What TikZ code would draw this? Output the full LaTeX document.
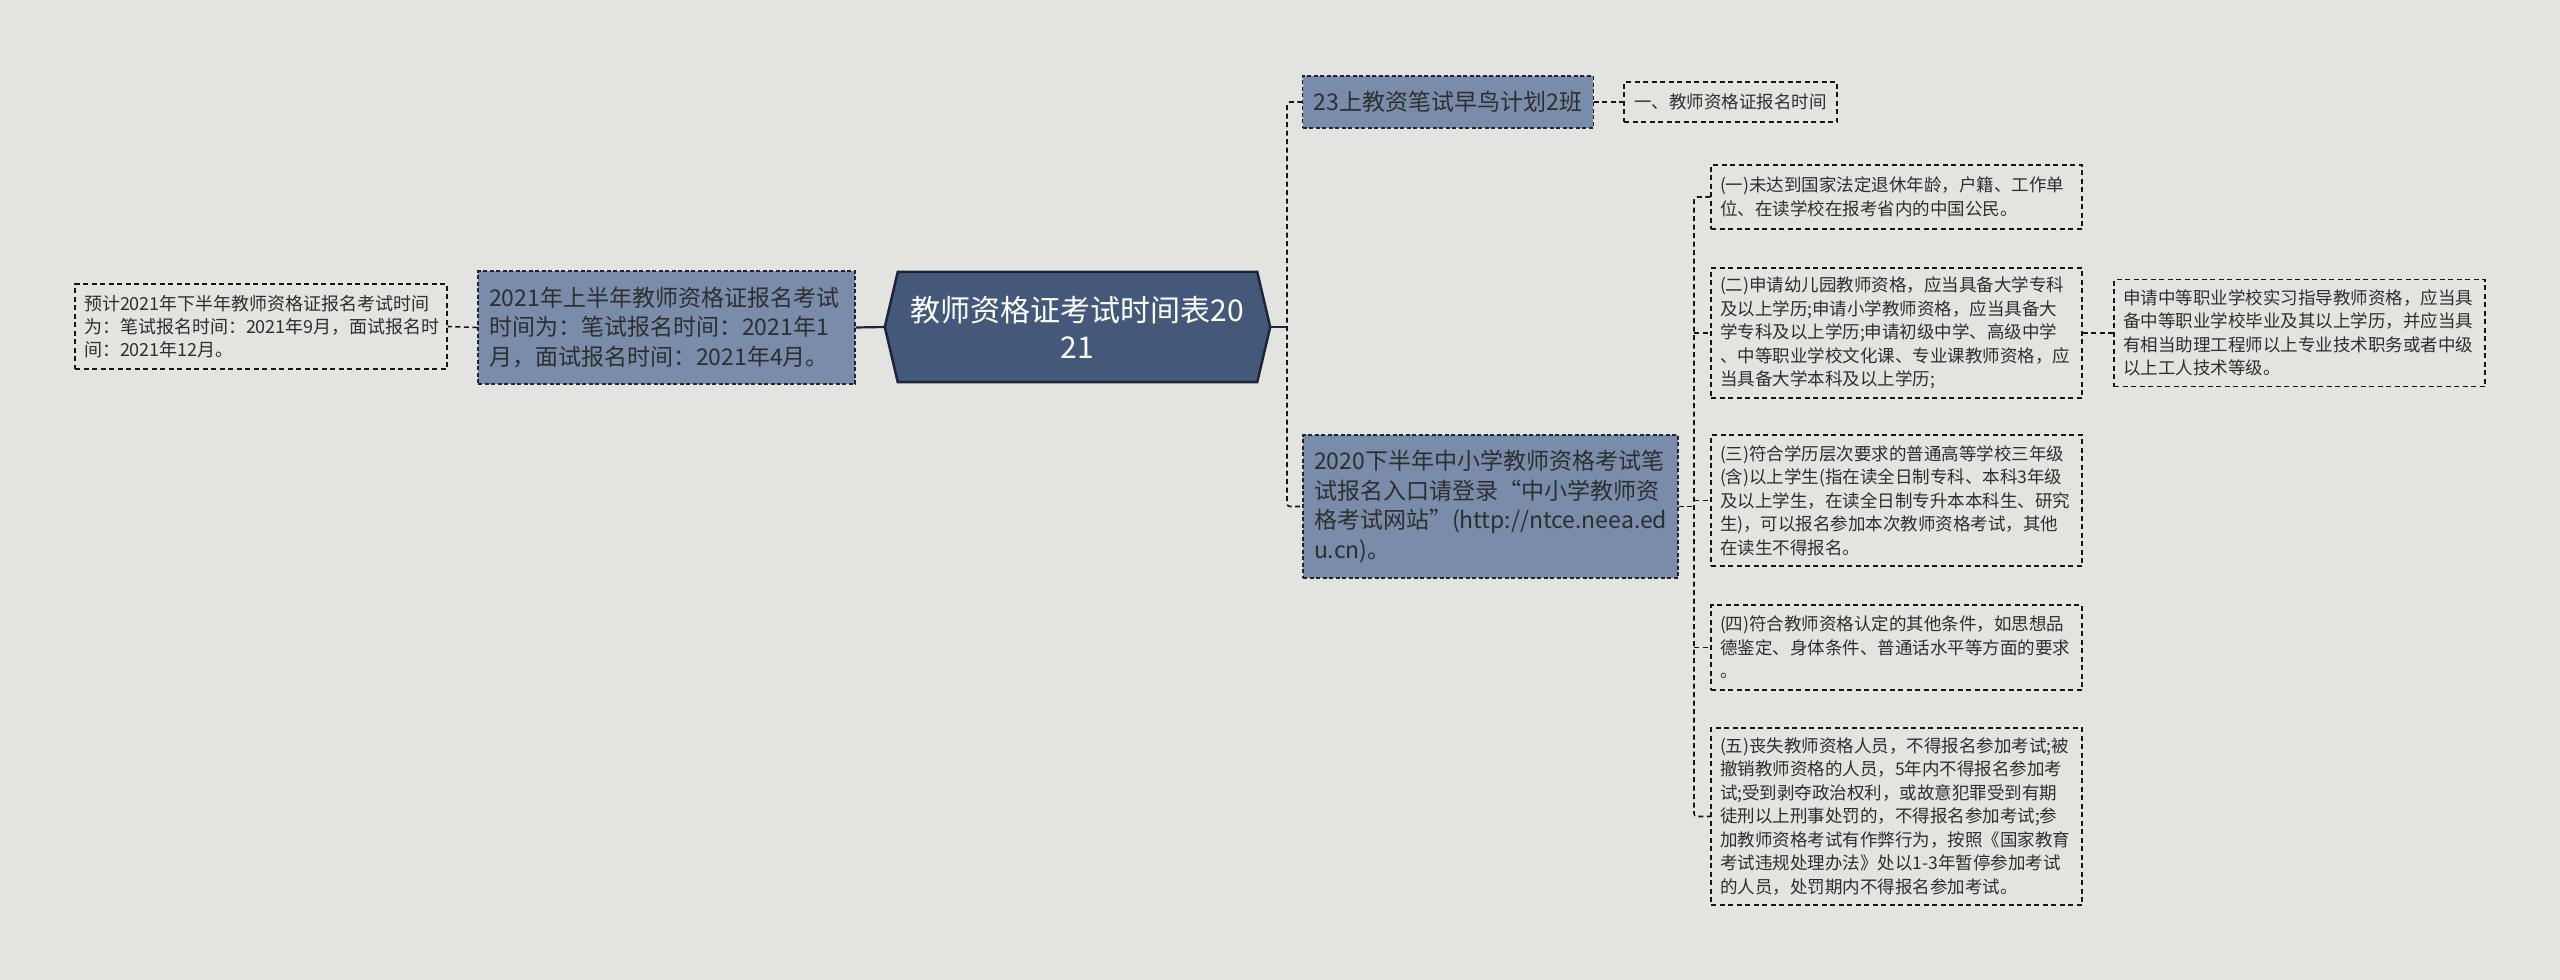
\documentclass[tikz,border=0pt]{standalone}
\usepackage{fontspec}
\newfontfamily\cjk{Noto Sans CJK SC}
\usetikzlibrary{backgrounds}
\definecolor{bg}{HTML}{E3E4DF}
\definecolor{rootfill}{HTML}{44597A}
\definecolor{rootline}{HTML}{1C2636}
\definecolor{lvfill}{HTML}{798CAA}
\definecolor{lvline}{HTML}{1E2633}
\definecolor{txt}{HTML}{2E2E2E}
\definecolor{conn}{HTML}{151515}
\tikzset{
  rootbox/.style={font=\cjk\fontsize{30}{37}\selectfont, text=white, align=center, inner sep=0pt, minimum width=359pt, minimum height=110pt},
  lvbox/.style={draw=lvline, fill=lvfill, line width=1.2pt, dash pattern=on 4pt off 2.5pt, font=\cjk\fontsize{23}{29.5}\selectfont, text=txt, inner xsep=11pt, inner ysep=0pt},
  leafbox/.style={draw=conn, line width=1.3pt, dash pattern=on 5pt off 3.5pt, font=\cjk\fontsize{17.5}{23.5}\selectfont, text=txt, align=left, inner xsep=9pt, inner ysep=0pt, text width=353pt},
  dconn/.style={draw=conn, line width=1.6pt, dash pattern=on 5pt off 3.5pt},
  sconn/.style={draw=rootline, line width=2.2pt},
}
\begin{document}
\begin{tikzpicture}[x=1pt,y=-1pt]
\useasboundingbox (0,0) rectangle (2560,980);
% root
\node[rootbox] (root) at (1077.5,327) {教师资格证考试时间表20\\21};
\coordinate (rootL) at ([xshift=-13pt]root.west);
\coordinate (rootR) at ([xshift=13pt]root.east);
% left side
\node[lvbox, align=left, text width=355pt, minimum height=113pt] (l1left) at (666.5,327.5)
  {2021年上半年教师资格证报名考试\\时间为：笔试报名时间：2021年1\\月，面试报名时间：2021年4月。};
\node[leafbox, text width=354pt, minimum height=85pt, font=\cjk\fontsize{18}{23}\selectfont] (leafleft) at (261,326.5)
  {预计2021年下半年教师资格证报名考试时间\\为：笔试报名时间：2021年9月，面试报名时\\间：2021年12月。};
% top branch
\node[lvbox, align=center, minimum width=290pt, minimum height=52pt] (l1top) at (1448,102) {23上教资笔试早鸟计划2班};
\node[leafbox, text width=, align=center, inner xsep=0pt, minimum width=213pt, minimum height=40pt] (leaftop) at (1730.5,102) {一、教师资格证报名时间};
% right branch
\node[lvbox, align=left, text width=353pt, minimum height=143pt] (l1right) at (1490.5,506.5)
  {2020下半年中小学教师资格考试笔\\试报名入口请登录“中小学教师资\\格考试网站”(http://ntce.neea.ed\\u.cn)。};
\node[leafbox, minimum height=64pt] (r1) at (1896.5,197)
  {(一)未达到国家法定退休年龄，户籍、工作单\\位、在读学校在报考省内的中国公民。};
\node[leafbox, minimum height=130pt] (r2) at (1896.5,333)
  {(二)申请幼儿园教师资格，应当具备大学专科\\及以上学历;申请小学教师资格，应当具备大\\学专科及以上学历;申请初级中学、高级中学\\、中等职业学校文化课、专业课教师资格，应\\当具备大学本科及以上学历;};
\node[leafbox, minimum height=107pt] (r2x) at (2299.5,333)
  {申请中等职业学校实习指导教师资格，应当具\\备中等职业学校毕业及其以上学历，并应当具\\有相当助理工程师以上专业技术职务或者中级\\以上工人技术等级。};
\node[leafbox, minimum height=131pt] (r3) at (1896.5,500.5)
  {(三)符合学历层次要求的普通高等学校三年级\\(含)以上学生(指在读全日制专科、本科3年级\\及以上学生，在读全日制专升本本科生、研究\\生)，可以报名参加本次教师资格考试，其他\\在读生不得报名。};
\node[leafbox, minimum height=85pt] (r4) at (1896.5,647.5)
  {(四)符合教师资格认定的其他条件，如思想品\\德鉴定、身体条件、普通话水平等方面的要求\\。};
\node[leafbox, minimum height=177pt] (r5) at (1896.5,816.5)
  {(五)丧失教师资格人员，不得报名参加考试;被\\撤销教师资格的人员，5年内不得报名参加考\\试;受到剥夺政治权利，或故意犯罪受到有期\\徒刑以上刑事处罚的，不得报名参加考试;参\\加教师资格考试有作弊行为，按照《国家教育\\考试违规处理办法》处以1-3年暂停参加考试\\的人员，处罚期内不得报名参加考试。};
% junctions
\coordinate (jR) at (1287,327);
\coordinate (jR2) at (1694,506.5);
% connectors
\draw[sconn] (rootL) -- (l1left.east);
\draw[dconn] (l1left.west) -- (leafleft.east);
\draw[sconn] (rootR) -- (jR);
\draw[dconn, rounded corners=3pt] (l1top.west) -| (jR) |- (l1right.west);
\draw[dconn] (l1top.east) -- (leaftop.west);
\draw[dconn] (l1right.east) -- (jR2);
\draw[dconn, rounded corners=3pt] (r1.west) -| (jR2) |- (r5.west);
\draw[dconn] (jR2 |- r2.west) -- (r2.west);
\draw[dconn] (jR2 |- r3.west) -- (r3.west);
\draw[dconn] (jR2 |- r4.west) -- (r4.west);
\draw[dconn] (r2.east) -- (r2x.west);
% background and root shape
\begin{scope}[on background layer]
  \fill[bg] (0,0) rectangle (2560,980);
  \draw[fill=rootfill, draw=rootline, line width=2.5pt, line join=miter]
    (rootL) -- (root.north west) -- (root.north east) -- (rootR) -- (root.south east) -- (root.south west) -- cycle;
\end{scope}
\end{tikzpicture}
\end{document}
